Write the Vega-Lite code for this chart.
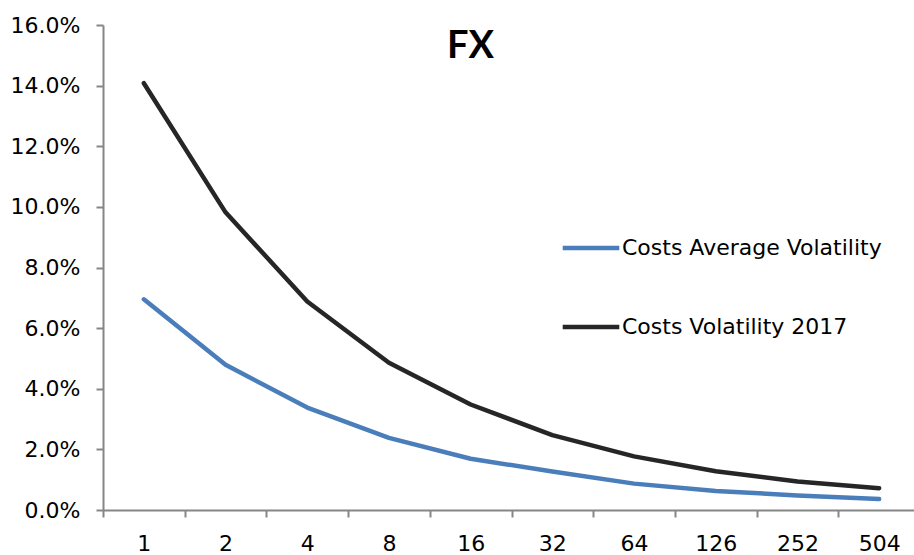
{
  "$schema": "https://vega.github.io/schema/vega-lite/v6.json",
  "autosize": "none",
  "width": 811,
  "height": 485,
  "padding": {"left": 103, "top": 25, "right": 0, "bottom": 45},
  "background": "white",
  "title": {"text": "FX", "font": "Lato", "fontSize": 38, "fontWeight": "bold", "color": "#000000", "anchor": "middle", "dx": -38, "dy": 56, "baseline": "top"},
  "data": {"values": [
    {"period": "1", "series": "Costs Average Volatility", "value": 0.0695},
    {"period": "2", "series": "Costs Average Volatility", "value": 0.0479},
    {"period": "4", "series": "Costs Average Volatility", "value": 0.0338},
    {"period": "8", "series": "Costs Average Volatility", "value": 0.0238},
    {"period": "16", "series": "Costs Average Volatility", "value": 0.0169},
    {"period": "32", "series": "Costs Average Volatility", "value": 0.0127},
    {"period": "64", "series": "Costs Average Volatility", "value": 0.0087},
    {"period": "126", "series": "Costs Average Volatility", "value": 0.0063},
    {"period": "252", "series": "Costs Average Volatility", "value": 0.0048},
    {"period": "504", "series": "Costs Average Volatility", "value": 0.0036},
    {"period": "1", "series": "Costs Volatility 2017", "value": 0.1408},
    {"period": "2", "series": "Costs Volatility 2017", "value": 0.0982},
    {"period": "4", "series": "Costs Volatility 2017", "value": 0.0688},
    {"period": "8", "series": "Costs Volatility 2017", "value": 0.0486},
    {"period": "16", "series": "Costs Volatility 2017", "value": 0.0348},
    {"period": "32", "series": "Costs Volatility 2017", "value": 0.0247},
    {"period": "64", "series": "Costs Volatility 2017", "value": 0.0177},
    {"period": "126", "series": "Costs Volatility 2017", "value": 0.0128},
    {"period": "252", "series": "Costs Volatility 2017", "value": 0.0094},
    {"period": "504", "series": "Costs Volatility 2017", "value": 0.0072}
  ]},
  "mark": {"type": "line", "strokeWidth": 4.5, "clip": false, "strokeCap": "round", "strokeJoin": "round"},
  "encoding": {
    "x": {"field": "period", "type": "ordinal", "sort": null,
      "scale": {"type": "band", "paddingInner": 0, "paddingOuter": 0, "range": [0, 817]},
      "axis": {"title": null, "labelAngle": 0, "tickBand": "extent", "domainColor": "#868686", "domainWidth": 2, "tickColor": "#868686", "tickWidth": 2, "tickSize": 7, "labelPadding": 16, "labelFont": "DejaVu Sans", "labelFontSize": 22, "labelColor": "#000000", "grid": false}},
    "y": {"field": "value", "type": "quantitative",
      "scale": {"domain": [0, 0.16], "nice": false},
      "axis": {"title": null, "format": ".1%", "values": [0, 0.02, 0.04, 0.06, 0.08, 0.1, 0.12, 0.14, 0.16], "grid": false, "domainColor": "#868686", "domainWidth": 2, "tickColor": "#868686", "tickWidth": 2, "tickSize": 7, "labelPadding": 16, "labelFont": "DejaVu Sans", "labelFontSize": 22, "labelColor": "#000000"}},
    "color": {"field": "series", "type": "nominal",
      "scale": {"domain": ["Costs Average Volatility", "Costs Volatility 2017"], "range": ["#4a7ebb", "#262626"]},
      "legend": {"title": null, "orient": "none", "legendX": 457, "legendY": 192, "symbolType": "stroke", "symbolSize": 3200, "symbolStrokeWidth": 4.5, "rowPadding": 37, "labelFont": "DejaVu Sans", "labelFontSize": 22, "labelColor": "#000000", "labelLimit": 400, "labelOffset": 0}}
  },
  "config": {"view": {"stroke": null}}
}
